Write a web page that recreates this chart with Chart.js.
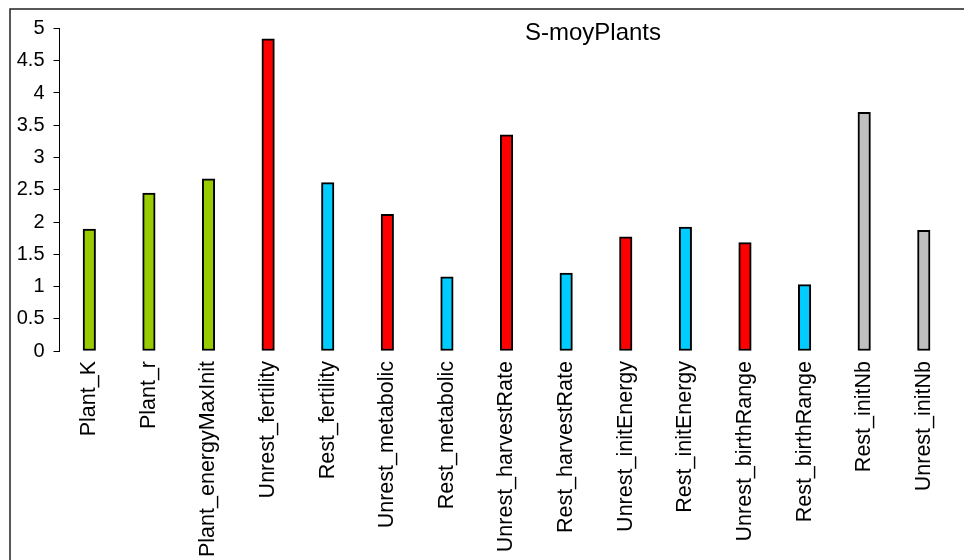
<!DOCTYPE html>
<html>
<head>
<meta charset="utf-8">
<script src="https://cdn.jsdelivr.net/npm/chart.js@4"></script>
<style>
  html, body { margin: 0; padding: 0; background: #fff; }
  canvas { display: block; }
</style>
</head>
<body>
<canvas id="myChart" width="964" height="560"></canvas>
<script>
// data
const categories = [
  "Plant_K", "Plant_r", "Plant_energyMaxInit", "Unrest_fertility", "Rest_fertility",
  "Unrest_metabolic", "Rest_metabolic", "Unrest_harvestRate", "Rest_harvestRate",
  "Unrest_initEnergy", "Rest_initEnergy", "Unrest_birthRange", "Rest_birthRange",
  "Rest_initNb", "Unrest_initNb"
];
const values = [1.89, 2.45, 2.67, 4.84, 2.61, 2.12, 1.15, 3.35, 1.21, 1.77, 1.92, 1.68, 1.03, 3.70, 1.87];
const groups = ["Plant", "Plant", "Plant", "Unrest", "Rest", "Unrest", "Rest", "Unrest", "Rest",
  "Unrest", "Rest", "Unrest", "Rest", "Nb", "Nb"];
const yMin = 0;
const yMax = 5;
const yStep = 0.5;
const title = "S-moyPlants";

const groupColors = {
  Plant: "#99CC00",
  Unrest: "#FF0000",
  Rest: "#00CCFF",
  Nb: "#C0C0C0"
};

const FONT = "'Liberation Sans', Arial, sans-serif";

// frame round the chart + title drawn over the plot
const framePlugin = {
  id: "frame",
  beforeDraw(chart) {
    const c = chart.ctx;
    c.save();
    c.fillStyle = "#fff";
    c.fillRect(0, 0, chart.width, chart.height);
    c.strokeStyle = "#222";
    c.lineWidth = 1.5;
    c.strokeRect(10, 9, 1200, 800);
    c.restore();
  },
  afterDraw(chart) {
    const c = chart.ctx;
    c.save();
    c.fillStyle = "#000";
    c.font = "24px " + FONT;
    c.textAlign = "center";
    c.textBaseline = "alphabetic";
    c.fillText(title, 593, 39.5);
    c.restore();
  }
};

const ctx = document.getElementById("myChart");

new Chart(ctx, {
  type: "bar",
  data: {
    labels: categories,
    datasets: [{
      data: values,
      backgroundColor: groups.map(g => groupColors[g]),
      borderColor: "#000",
      borderWidth: 2,
      borderSkipped: false,
      barThickness: 12.5
    }]
  },
  options: {
    responsive: false,
    animation: false,
    devicePixelRatio: 1,
    layout: {
      padding: { top: 28.5, left: 0, right: 10.4, bottom: 0 }
    },
    plugins: {
      legend: { display: false },
      tooltip: { enabled: false }
    },
    scales: {
      x: {
        grid: { display: false, drawTicks: false },
        border: { display: false },
        ticks: {
          autoSkip: false,
          maxRotation: 90,
          minRotation: 90,
          padding: 10,
          color: "#000",
          font: { family: FONT, size: 21.5 }
        },
        afterFit: (scale) => { scale.height = 209; }
      },
      y: {
        min: yMin,
        max: yMax,
        grid: {
          drawOnChartArea: false,
          drawTicks: true,
          tickLength: 6,
          color: "#000",
          lineWidth: 1
        },
        border: { display: true, color: "#000", width: 1 },
        ticks: {
          stepSize: yStep,
          padding: 9,
          color: "#000",
          font: { family: FONT, size: 20 },
          callback: (v) => String(v)
        },
        afterFit: (scale) => { scale.width = 59.5; }
      }
    }
  },
  plugins: [framePlugin]
});
</script>
</body>
</html>
